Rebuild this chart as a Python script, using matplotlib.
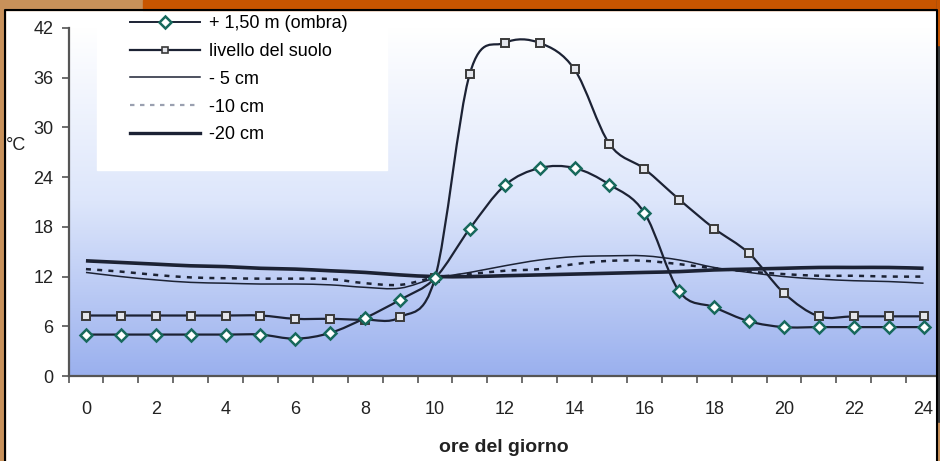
import numpy as np
import matplotlib
matplotlib.use("Agg")
import matplotlib.pyplot as plt
from matplotlib.colors import LinearSegmentedColormap
from matplotlib.lines import Line2D
from matplotlib.patches import PathPatch, Rectangle
from matplotlib.path import Path

plt.rcParams["font.family"] = ["Liberation Sans", "DejaVu Sans"]

# hourly temperatures (°C)
hours = list(range(25))
aria_150 = [5.0, 5.0, 5.0, 5.0, 5.0, 5.0, 4.5, 5.2, 7.0, 9.2, 11.8, 17.8, 23.0,
            25.1, 25.1, 23.1, 19.7, 10.2, 8.3, 6.6, 5.9, 5.9, 5.9, 5.9, 5.9]
suolo = [7.3, 7.3, 7.3, 7.3, 7.3, 7.3, 6.9, 6.9, 6.8, 7.1, 11.8, 36.5, 40.2,
         40.2, 37.0, 28.0, 25.0, 21.3, 17.8, 14.8, 10.0, 7.2, 7.2, 7.2, 7.2]
cm_5 = [12.5, 12.0, 11.6, 11.3, 11.2, 11.1, 11.1, 11.0, 10.7, 10.6, 11.8, 12.5, 13.3,
        14.0, 14.4, 14.5, 14.5, 14.0, 13.1, 12.5, 12.0, 11.7, 11.5, 11.4, 11.2]
cm_10 = [12.9, 12.6, 12.2, 11.9, 11.8, 11.75, 11.75, 11.7, 11.2, 11.0, 11.9, 12.3, 12.7,
         12.9, 13.5, 13.9, 13.9, 13.5, 13.0, 12.6, 12.3, 12.1, 12.1, 12.0, 12.0]
cm_20 = [13.9, 13.7, 13.5, 13.3, 13.2, 13.0, 12.9, 12.7, 12.5, 12.2, 12.0, 12.0, 12.1,
         12.2, 12.3, 12.4, 12.5, 12.6, 12.8, 12.9, 13.0, 13.1, 13.1, 13.1, 13.0]

labels = ["+ 1,50 m (ombra)", "livello del suolo", "- 5 cm", "-10 cm", "-20 cm"]
yticks = list(range(0, 43, 6))
xticks = list(range(0, 25, 2))

LINE = "#1c2234"
TEAL = "#17695c"
TAN = "#c8915a"
ORANGE = "#c85500"


def smooth(x, y):
    # smoothed line like the spreadsheet one (Catmull-Rom as bezier segments)
    n = len(x)
    verts = [(x[0], y[0])]
    codes = [Path.MOVETO]
    for i in range(n - 1):
        a = max(i - 1, 0)
        b = min(i + 2, n - 1)
        c1 = (x[i] + (x[i + 1] - x[a]) / 6, y[i] + (y[i + 1] - y[a]) / 6)
        c2 = (x[i + 1] - (x[b] - x[i]) / 6, y[i + 1] - (y[b] - y[i]) / 6)
        verts += [c1, c2, (x[i + 1], y[i + 1])]
        codes += [Path.CURVE4] * 3
    return Path(verts, codes)


fig = plt.figure(figsize=(9.4, 4.61), dpi=100)
ax = fig.add_axes([68.5 / 940, 85 / 461, 872.5 / 940, 348 / 461])
ax.set_xlim(-0.5, 24.5)
ax.set_ylim(0, 42)

bg = LinearSegmentedColormap.from_list("bg", ["#ffffff", "#dde6fb", "#9ab0ee"])
ax.imshow(np.linspace(0, 1, 256).reshape(-1, 1), cmap=bg, aspect="auto",
          extent=[-0.5, 24.5, 0, 42], zorder=0)

styles = [
    (cm_20, dict(lw=2.6, ls="-")),
    (cm_10, dict(lw=1.8, ls=(0, (2, 2.5)))),
    (cm_5, dict(lw=1.1, ls="-")),
    (suolo, dict(lw=1.6, ls="-")),
    (aria_150, dict(lw=1.6, ls="-")),
]
for vals, st in styles:
    ax.add_patch(PathPatch(smooth(hours, vals), fill=False, edgecolor=LINE,
                           zorder=2, **st))

ax.plot(hours, suolo, ls="none", marker="s", ms=6, mfc="#e4e6ec", mec="#3a3a3a",
        mew=1.4, zorder=3)
ax.plot(hours, aria_150, ls="none", marker="D", ms=6, mfc="white", mec=TEAL,
        mew=1.8, zorder=3)

for s in ["top", "right"]:
    ax.spines[s].set_visible(False)
for s in ["left", "bottom"]:
    ax.spines[s].set_color("#555555")
    ax.spines[s].set_linewidth(1.6)

ax.set_yticks(yticks)
ax.set_xticks(xticks)
ax.set_xticks(np.arange(-0.5, 25, 1), minor=True)
ax.tick_params(axis="y", direction="out", length=5, width=1.2, color="#555555",
               labelsize=13, pad=6, labelcolor="#222222")
ax.tick_params(axis="x", which="major", length=0, labelsize=13, pad=18,
               labelcolor="#222222")
ax.tick_params(axis="x", which="minor", direction="out", length=5, width=1.2,
               color="#555555")

# white box behind the legend
fig.add_artist(Rectangle((97 / 940, 1 - 170 / 461), 290 / 940, 160 / 461,
                         transform=fig.transFigure, color="white", zorder=3))

handles = [
    Line2D([], [], color=LINE, lw=1.4, marker="D", ms=6, mfc="white", mec=TEAL, mew=1.8),
    Line2D([], [], color=LINE, lw=1.6, marker="s", ms=5, mfc="#e4e6ec", mec="#3a3a3a", mew=1.2),
    Line2D([], [], color=LINE, lw=1.1),
    Line2D([], [], color="#9aa0b0", lw=1.6, ls=(0, (2, 2.5))),
    Line2D([], [], color=LINE, lw=2.4),
]
leg = fig.legend(handles, labels, loc="upper left",
                 bbox_to_anchor=(121 / 940, 1 - 6 / 461), frameon=False,
                 fontsize=13, handlelength=3.9, handletextpad=0.5,
                 labelspacing=0.6, borderpad=0.5, borderaxespad=0)
leg.set_zorder(4)

fig.text(16 / 940, 1 - 145 / 461, "°C", ha="center", va="center", fontsize=13,
         color="#222222")
fig.text(504 / 940, 1 - 447 / 461, "ore del giorno", ha="center", va="center",
         fontsize=14, weight="bold", color="#222222")

# frame around the picture
fig.add_artist(Rectangle((0, 0), 5 / 940, 1, transform=fig.transFigure,
                         color=TAN, zorder=5))
fig.add_artist(Rectangle((0, 1 - 10 / 461), 143 / 940, 10 / 461, transform=fig.transFigure,
                         color=TAN, zorder=5))
fig.add_artist(Rectangle((143 / 940, 1 - 10 / 461), 797 / 940, 10 / 461,
                         transform=fig.transFigure, color=ORANGE, zorder=5))
fig.add_artist(Rectangle((937 / 940, 0), 3 / 940, 1, transform=fig.transFigure,
                         color="#3a3a3a", zorder=5))
fig.add_artist(Rectangle((937 / 940, 1 - 45 / 461), 3 / 940, 45 / 461,
                         transform=fig.transFigure, color=ORANGE, zorder=6))
fig.add_artist(Rectangle((937 / 940, 0), 3 / 940, 38 / 461,
                         transform=fig.transFigure, color=TAN, zorder=6))
fig.add_artist(Line2D([5 / 940, 5 / 940, 937 / 940, 937 / 940],
                      [0, 1 - 10 / 461, 1 - 10 / 461, 0],
                      transform=fig.transFigure, color="black", lw=1.5, zorder=6))

fig.savefig("out.png", dpi=100, facecolor="white")
